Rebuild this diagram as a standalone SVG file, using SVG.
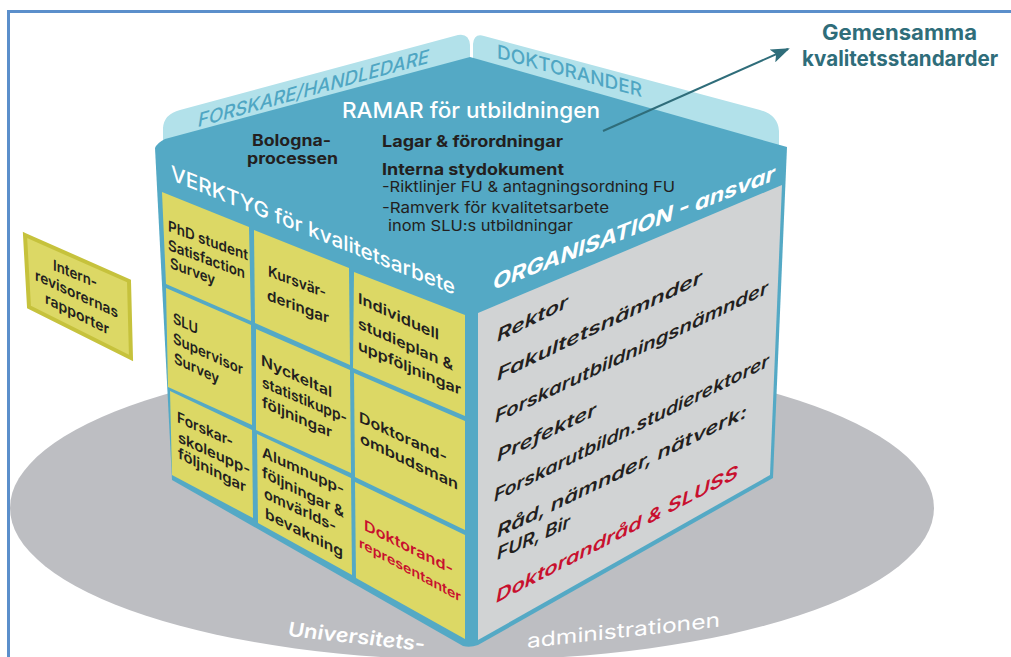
<svg xmlns="http://www.w3.org/2000/svg" width="1011" height="657" viewBox="0 0 1011 657">
<style>
text{font-family:"Inter","Liberation Sans",sans-serif;fill:#231f20}
.b{font-weight:700}
.w{fill:#fff}
.cell{fill:#dcd865}
.c{font-size:15px;font-weight:600}
.o{font-size:17.5px;font-weight:600;font-style:italic}
.r{fill:#c8102e}
.f{fill:#b2e1ea}
.fl{fill:#4fa6c3;font-size:19px;font-weight:500}
.ti{fill:#2f6d7a;font-size:21px;font-weight:700}
</style>
<defs><marker id="ah" markerWidth="20" markerHeight="14" refX="17" refY="7" orient="auto" markerUnits="userSpaceOnUse"><path d="M0 0L19 7L0 14L4 7Z" fill="#2f6d7a"/></marker></defs>
<rect width="1011" height="657" fill="#fff"/>
<path id="frame" d="M8.5 657V11.5H1011" fill="none" stroke="#5b8fcb" stroke-width="3"/>
<ellipse id="platform" cx="472" cy="508" rx="462" ry="152" fill="#bdbec2"/>
<g id="flaps">
<path class="f" d="M163 146V128Q164 114 180 110L458 35Q469 33 470 45V60Z"/>
<path class="f" d="M473 60V44Q474 33 484 36L760 110Q778 115 779 131V148Z"/>
<text class="fl" font-style="italic" transform="matrix(1 -.278 0 1 198 127)" textLength="231" lengthAdjust="spacingAndGlyphs">FORSKARE/HANDLEDARE</text>
<text class="fl" transform="matrix(1 .27 0 1 497 58)" textLength="145" lengthAdjust="spacingAndGlyphs">DOKTORANDER</text>
</g>
<g id="cube">
<path d="M155 148Q157 143 165 139L470 57L787 147L773 478L478 645Q470 648 463 646L172 480Z" fill="#54a9c5"/>
<path d="M478 313L782 185L770 475L478 640Z" fill="#d1d3d4"/>
</g>
<g id="cells">
<path class="cell" d="M162 192L249 227L251 321L166 284Z"/>
<path class="cell" d="M254 230L349 268L350 365L255 323Z"/>
<path class="cell" d="M354 272L465 315V416L353 368Z"/>
<path class="cell" d="M166 288L251 325L252 425L168 387Z"/>
<path class="cell" d="M256 329L350 370L351 473L256 430Z"/>
<path class="cell" d="M354 373L465 421V530L355 477Z"/>
<path class="cell" d="M170 391L252 430L253 518L172 475Z"/>
<path class="cell" d="M257 434L351 478L352 575L258 523Z"/>
<path class="cell" d="M355 482L465 535V639L356 578Z"/>
</g>
<g id="top-texts">
<text class="w" x="342" y="118" font-size="22" font-weight="500" textLength="258" lengthAdjust="spacingAndGlyphs">RAMAR för utbildningen</text>
<text class="b" x="252" y="146" font-size="15.5" textLength="79" lengthAdjust="spacingAndGlyphs">Bologna-</text>
<text class="b" x="247" y="164" font-size="15.5" textLength="91" lengthAdjust="spacingAndGlyphs">processen</text>
<text class="b" x="382" y="147" font-size="15.5" textLength="181" lengthAdjust="spacingAndGlyphs">Lagar &amp; förordningar</text>
<text class="b" x="382" y="175" font-size="16" textLength="182" lengthAdjust="spacingAndGlyphs">Interna stydokument</text>
<text x="382" y="192" font-size="15" textLength="293" lengthAdjust="spacingAndGlyphs">-Riktlinjer FU &amp; antagningsordning FU</text>
<text x="382" y="213" font-size="15" textLength="227" lengthAdjust="spacingAndGlyphs">-Ramverk för kvalitetsarbete</text>
<text x="388" y="231" font-size="15" textLength="185" lengthAdjust="spacingAndGlyphs">inom SLU:s utbildningar</text>
</g>
<g id="face-titles">
<text class="w" font-size="21" font-weight="500" transform="matrix(1 .405 0 1 171 180)" textLength="284" lengthAdjust="spacingAndGlyphs">VERKTYG för kvalitetsarbete</text>
<text class="w" font-size="21" font-weight="700" font-style="italic" transform="matrix(1 -.39 0 1 493 290)" textLength="282" lengthAdjust="spacingAndGlyphs">ORGANISATION - ansvar</text>
</g>
<g id="cell-texts">
<text class="c" transform="matrix(1 .37 0 1 168 231)" textLength="80" lengthAdjust="spacingAndGlyphs">PhD student</text>
<text class="c" transform="matrix(1 .37 0 1 168 250)" textLength="77" lengthAdjust="spacingAndGlyphs">Satisfaction</text>
<text class="c" transform="matrix(1 .38 0 1 170 268)" textLength="45" lengthAdjust="spacingAndGlyphs">Survey</text>
<text class="c" transform="matrix(1 .38 0 1 268 276)" textLength="58" lengthAdjust="spacingAndGlyphs">Kursvär-</text>
<text class="c" transform="matrix(1 .38 0 1 267 300)" textLength="62" lengthAdjust="spacingAndGlyphs">deringar</text>
<text class="c" transform="matrix(1 .46 0 1 358 303)" textLength="81" lengthAdjust="spacingAndGlyphs">Individuell</text>
<text class="c" transform="matrix(1 .45 0 1 358 328)" textLength="95" lengthAdjust="spacingAndGlyphs">studieplan &amp;</text>
<text class="c" transform="matrix(1 .44 0 1 358 350)" textLength="103" lengthAdjust="spacingAndGlyphs">uppföljningar</text>
<text class="c" transform="matrix(1 .46 0 1 173 323)" textLength="25" lengthAdjust="spacingAndGlyphs">SLU</text>
<text class="c" transform="matrix(1 .46 0 1 173 343)" textLength="70" lengthAdjust="spacingAndGlyphs">Supervisor</text>
<text class="c" transform="matrix(1 .47 0 1 174 363)" textLength="45" lengthAdjust="spacingAndGlyphs">Survey</text>
<text class="c" transform="matrix(1 .46 0 1 261 365)" textLength="71" lengthAdjust="spacingAndGlyphs">Nyckeltal</text>
<text class="c" transform="matrix(1 .43 0 1 262 387)" textLength="85" lengthAdjust="spacingAndGlyphs">statistikupp-</text>
<text class="c" transform="matrix(1 .44 0 1 262 407)" textLength="70" lengthAdjust="spacingAndGlyphs">följningar</text>
<text class="c" transform="matrix(1 .46 0 1 359 422)" textLength="88" lengthAdjust="spacingAndGlyphs">Doktorand-</text>
<text class="c" transform="matrix(1 .48 0 1 360 443)" textLength="98" lengthAdjust="spacingAndGlyphs">ombudsman</text>
<text class="c" transform="matrix(1 .45 0 1 177 422)" textLength="56" lengthAdjust="spacingAndGlyphs">Forskar-</text>
<text class="c" transform="matrix(1 .46 0 1 178 442)" textLength="72" lengthAdjust="spacingAndGlyphs">skoleupp-</text>
<text class="c" transform="matrix(1 .51 0 1 178 458)" textLength="68" lengthAdjust="spacingAndGlyphs">följningar</text>
<text class="c" transform="matrix(1 .46 0 1 262 457)" textLength="82" lengthAdjust="spacingAndGlyphs">Alumnupp-</text>
<text class="c" transform="matrix(1 .5 0 1 262 477)" textLength="82" lengthAdjust="spacingAndGlyphs">följningar &amp;</text>
<text class="c" transform="matrix(1 .47 0 1 264 498)" textLength="72" lengthAdjust="spacingAndGlyphs">omvärlds-</text>
<text class="c" transform="matrix(1 .51 0 1 265 518)" textLength="78" lengthAdjust="spacingAndGlyphs">bevakning</text>
<text class="c r" transform="matrix(1 .5 0 1 364 530)" textLength="89" lengthAdjust="spacingAndGlyphs">Doktorand-</text>
<text class="c r" style="font-size:13.5px" transform="matrix(1 .54 0 1 359 547)" textLength="102" lengthAdjust="spacingAndGlyphs">representanter</text>
</g>
<g id="org-texts">
<text class="o" transform="matrix(1 -.49 0 1 497 342)" textLength="71" lengthAdjust="spacingAndGlyphs">Rektor</text>
<text class="o" transform="matrix(1 -.48 0 1 497 381)" textLength="205" lengthAdjust="spacingAndGlyphs">Fakultetsnämnder</text>
<text class="o" transform="matrix(1 -.476 0 1 495 423)" textLength="273" lengthAdjust="spacingAndGlyphs">Forskarutbildningsnämnder</text>
<text class="o" transform="matrix(1 -.475 0 1 497 462)" textLength="99" lengthAdjust="spacingAndGlyphs">Prefekter</text>
<text class="o" transform="matrix(1 -.494 0 1 494 502)" textLength="275" lengthAdjust="spacingAndGlyphs">Forskarutbildn.studierektorer</text>
<text class="o" transform="matrix(1 -.484 0 1 497 538)" textLength="250" lengthAdjust="spacingAndGlyphs">Råd, nämnder, nätverk:</text>
<text class="o" transform="matrix(1 -.45 0 1 497 560)" textLength="73" lengthAdjust="spacingAndGlyphs">FUR, Bir</text>
<text class="o r" transform="matrix(1 -.52 0 1 496 603)" textLength="242" lengthAdjust="spacingAndGlyphs">Doktorandråd &amp; SLUSS</text>
</g>
<g id="internrevisor">
<path d="M25 235L129 281L131 358L29 307Z" fill="#dcd865" stroke="#c6c23c" stroke-width="4"/>
<text class="c" transform="matrix(1 .41 0 1 53 270)" textLength="44" lengthAdjust="spacingAndGlyphs">Intern-</text>
<text class="c" transform="matrix(1 .46 0 1 35 280)" textLength="83" lengthAdjust="spacingAndGlyphs">revisorernas</text>
<text class="c" transform="matrix(1 .5 0 1 45 303)" textLength="64" lengthAdjust="spacingAndGlyphs">rapporter</text>
</g>
<g id="connectors"><path d="M603 131L788 49" fill="none" stroke="#2f6d7a" stroke-width="2" marker-end="url(#ah)"/></g>
<g id="title">
<text class="ti" x="822" y="40" textLength="155" lengthAdjust="spacingAndGlyphs">Gemensamma</text>
<text class="ti" x="802" y="66" textLength="196" lengthAdjust="spacingAndGlyphs">kvalitetsstandarder</text>
</g>
<g id="base-label">
<text class="w" font-size="20" font-weight="600" font-style="italic" transform="matrix(1 .11 0 1 288 636)" textLength="137" lengthAdjust="spacingAndGlyphs">Universitets-</text>
<text class="w" font-size="20" transform="matrix(1 -.11 0 1 527 648)" textLength="193" lengthAdjust="spacingAndGlyphs">administrationen</text>
</g>
</svg>
